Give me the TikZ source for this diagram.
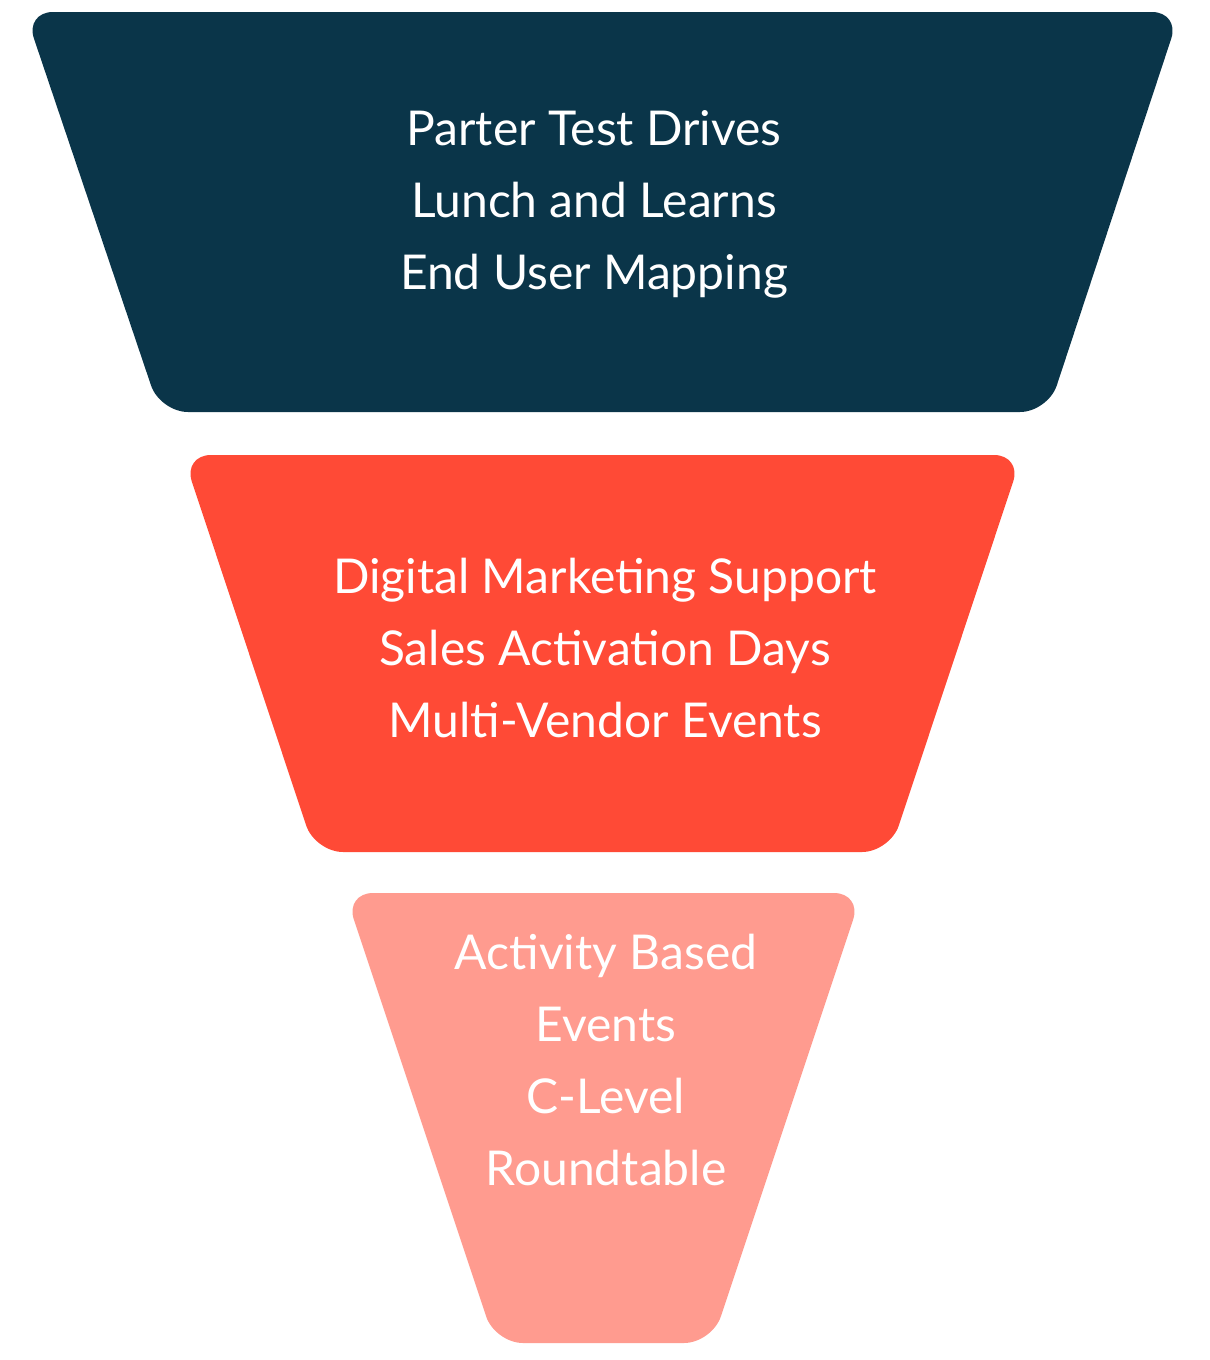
\documentclass[tikz,border=0pt]{standalone}
\usepackage{fontspec}
\setmainfont{Lato}
\definecolor{navy}{HTML}{0A3549}
\definecolor{red1}{HTML}{FF4A36}
\definecolor{pink1}{HTML}{FF9B8F}
\begin{document}
\begin{tikzpicture}[x=1pt,y=-1pt,
  seg/.style={rounded corners=28pt},
  lbl/.style={text=white,align=center,font=\fontsize{48}{72}\selectfont}]
\useasboundingbox (0,0) rectangle (1210,1360);
\fill[navy,seg] (25,12) -- (1180,12) -- (1048,412) -- (160,412) -- cycle;
\fill[red1,seg] (183,455) -- (1022,455) -- (890,852) -- (315,852) -- cycle;
\fill[pink1,seg] (345,893) -- (862,893) -- (712,1343) -- (495,1343) -- cycle;
\node[lbl] (t1) at (594,204) {Parter Test Drives\\Lunch and Learns\\End User Mapping};
\node[lbl] (t2) at (605,648) {Digital Marketing Support\\Sales Activation Days\\Multi-Vendor Events};
\node[lbl] (t3) at (606,1060) {Activity Based\\Events\\C-Level\\Roundtable};
\end{tikzpicture}
\end{document}
